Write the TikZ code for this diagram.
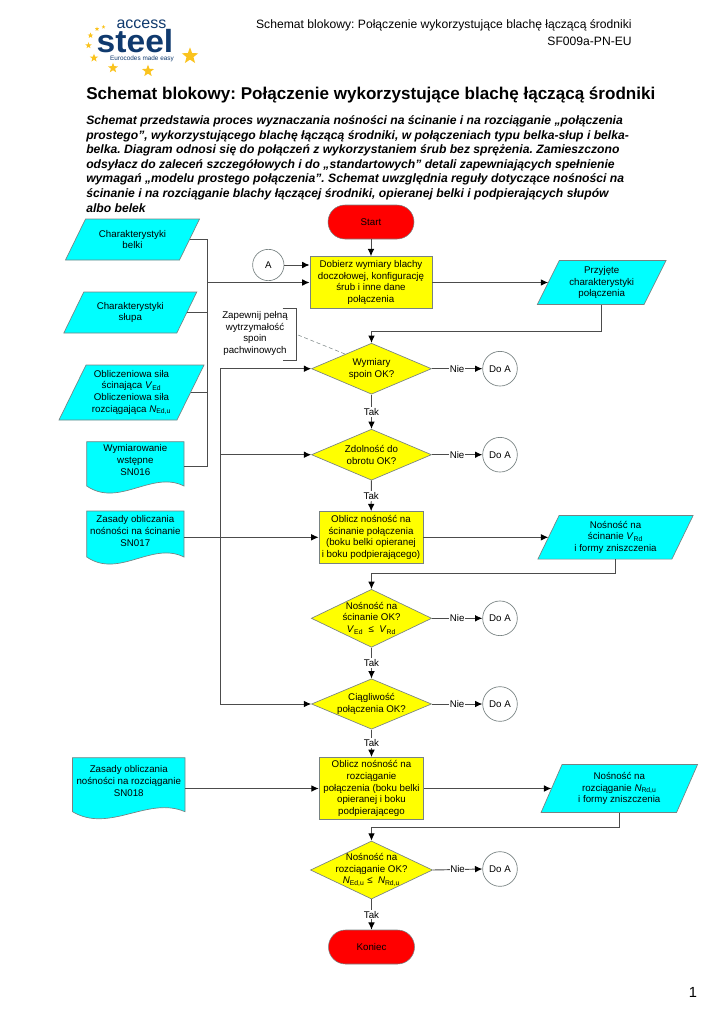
\documentclass[tikz,border=0pt]{standalone}
\usepackage{fontspec}
\setmainfont{Liberation Sans}
\usetikzlibrary{shapes.geometric,arrows.meta}
\frenchspacing
\definecolor{flowcyan}{RGB}{0,255,255}
\definecolor{flowyellow}{RGB}{255,255,0}
\definecolor{flowred}{RGB}{255,0,0}
\definecolor{flowgray}{RGB}{120,130,130}
\definecolor{logoblue}{RGB}{16,58,110}
\definecolor{logogold}{RGB}{250,195,30}
\tikzset{
  flowtext/.style={font=\fontsize{7.3}{8.75}\selectfont, align=center, inner sep=0pt},
  databox/.style={fill=flowcyan, draw=flowgray, line width=0.5pt},
  datanode/.style={flowtext, minimum height=0pt},
  procbox/.style={flowtext, rectangle, draw=flowgray, line width=0.7pt, fill=flowyellow},
  decide/.style={diamond, inner sep=0pt, draw=flowgray, line width=0.5pt, fill=flowyellow},
  terminal/.style={flowtext, rectangle, rounded corners=12.7pt, draw=flowgray, line width=0.4pt, fill=flowred},
  jumpcirc/.style={flowtext, circle, draw=flowgray, line width=0.5pt, fill=white},
  link/.style={draw=black!70, line width=0.7pt, -{Latex[length=5.5pt,width=5pt,black]}},
  plainlink/.style={draw=black!70, line width=0.7pt},
  lbl/.style={flowtext, fill=white, inner xsep=0.4pt, inner ysep=1pt},
  logostar/.style={star, star points=5, star point ratio=2.4, fill=logogold, inner sep=0pt}
}
\newcommand{\symb}[2]{\textit{#1}\textsubscript{#2}}
% parallelogram: name, x, y, mid width, height, half skew, text
\newcommand{\paradata}[7]{
  \filldraw[databox] ({#2-#4/2+#6},{#3-#5/2}) -- ({#2+#4/2+#6},{#3-#5/2})
    -- ({#2+#4/2-#6},{#3+#5/2}) -- ({#2-#4/2-#6},{#3+#5/2}) -- cycle;
  \node[datanode, minimum width=#4*0.75pt, minimum height=#5*0.75pt] (#1) at (#2,#3) {#7};
}
% document shape: name, left, right, top, bottom, text y, text
\newcommand{\docdata}[7]{
  \filldraw[databox] (#2,#4) -- (#3,#4) -- (#3,#5)
    .. controls ({#3-0.33*(#3-#2)},{#5-16}) and ({#2+0.33*(#3-#2)},{#5+22}) .. (#2,#5) -- cycle;
  \node[datanode, minimum width={(#3-#2)*0.75pt}] (#1) at ({(#2+#3)/2},#6) {#7};
}
% decision: name, x, y, width, height, text
\newcommand{\decision}[6]{
  \node[decide, minimum width=#4*0.75pt, minimum height=#5*0.75pt,
    label={[flowtext]center:{#6}}] (#1) at (#2,#3) {};
}
\begin{document}
\begin{tikzpicture}[x=0.75pt,y=-0.75pt]
\useasboundingbox (0,0) rectangle (724,1024);

% logo
\node[font=\fontsize{12}{12}\selectfont, text=logoblue, inner sep=0pt] (logoa) at (141.5,24) {access};
\node[font=\fontsize{24}{24}\bfseries\selectfont, text=logoblue, inner sep=0pt, xscale=1.05] (logob) at (135,41.5) {steel};
\node[font=\fontsize{4.8}{5}\selectfont, text=logoblue, inner sep=0pt] (logoc) at (142,58.5) {Eurocodes made easy};
\node[logostar, minimum size=13pt] (stara) at (190,56) {};
\node[logostar, minimum size=9.5pt] (starb) at (148,71) {};
\node[logostar, minimum size=8pt] (starc) at (113,68) {};
\node[logostar, minimum size=6.5pt] (stard) at (94,58) {};
\node[logostar, minimum size=5pt] (stare) at (88.5,45.5) {};
\node[logostar, minimum size=4.5pt] (starf) at (90.5,35.5) {};
\node[logostar, minimum size=3.5pt] (starg) at (97,29) {};
\node[logostar, minimum size=3pt] (starh) at (103.5,27) {};

% header and title
\node[anchor=east, font=\fontsize{9.1}{11}\selectfont, inner sep=0pt] (headone) at (632,25) {Schemat blokowy: Połączenie wykorzystujące blachę łączącą środniki};
\node[anchor=east, font=\fontsize{9.1}{11}\selectfont, inner sep=0pt] (headtwo) at (632,41) {SF009a-PN-EU};
\node[anchor=west, font=\fontsize{12.8}{15}\bfseries\selectfont, inner sep=0pt] (title) at (86,95) {Schemat blokowy: Połączenie wykorzystujące blachę łączącą środniki};
\node[anchor=north west, align=left, font=\fontsize{9.12}{10.93}\bfseries\itshape\selectfont, inner sep=0pt] (intro) at (86,115.5) {Schemat przedstawia proces wyznaczania nośności na ścinanie i na rozciąganie „połączenia\\
prostego”, wykorzystującego blachę łączącą środniki, w połączeniach typu belka-słup i belka-\\
belka. Diagram odnosi się do połączeń z wykorzystaniem śrub bez sprężenia. Zamieszczono\\
odsyłacz do zaleceń szczegółowych i do „standartowych” detali zapewniających spełnienie\\
wymagań „modelu prostego połączenia”. Schemat uwzględnia reguły dotyczące nośności na\\
ścinanie i na rozciąganie blachy łączącej środniki, opieranej belki i podpierających słupów\\
albo belek};
\node[font=\fontsize{11}{13}\selectfont, inner sep=0pt] (pagenum) at (693,992) {1};

% inputs on the left
\paradata{belka}{132.5}{239.5}{114}{41}{10}{Charakterystyki\\belki}
\paradata{slup}{130.3}{312.5}{113}{41}{10}{Charakterystyki\\słupa}
\paradata{sily}{131.5}{392.5}{118}{55}{13.5}{Obliczeniowa siła\\ścinająca \symb{V}{Ed}\\Obliczeniowa siła\\rozciągająca \symb{N}{Ed,u}}
\docdata{wstepne}{86.7}{184}{441.7}{486}{460}{Wymiarowanie\\wstępne\\SN016}
\docdata{zasadyv}{86.7}{184}{511}{557}{531}{Zasady obliczania\\nośności na ścinanie\\SN017}
\docdata{zasadyn}{72.5}{185}{757.7}{811.7}{781}{Zasady obliczania\\nośności na rozciąganie\\SN018}

% main column
\node[terminal, minimum width=64.5pt, minimum height=25.5pt] (start) at (371,222) {Start};
\node[procbox, minimum width=91.5pt, minimum height=38.7pt] (dobierz) at (371,282.5) {Dobierz wymiary blachy\\doczołowej, konfigurację\\śrub i inne dane\\połączenia};
\decision{spoiny}{371.5}{368.7}{120}{51}{Wymiary\\spoin OK?}
\decision{obrot}{371.5}{454.7}{120}{51}{Zdolność do\\obrotu OK?}
\node[procbox, minimum width=78pt, minimum height=38.5pt] (obliczv) at (371,537.3) {Oblicz nośność na\\ścinanie połączenia\\(boku belki opieranej\\i boku podpierającego)};
\decision{scin}{371.5}{618.3}{120.4}{58}{Nośność na\\ścinanie OK?\\\symb{V}{Ed} \ ≤ \ \symb{V}{Rd}}
\decision{ciagl}{371.5}{704}{120}{50.4}{Ciągliwość\\połączenia OK?}
\node[procbox, minimum width=78.5pt, minimum height=46.5pt] (obliczn) at (371.5,788.5) {Oblicz nośność na\\rozciąganie\\połączenia (boku belki\\opieranej i boku\\podpierającego};
\decision{rozc}{371.5}{870}{122}{58}{Nośność na\\rozciąganie OK?\\\symb{N}{Ed,u} ≤ \ \symb{N}{Rd,u}}
\node[terminal, minimum width=64.5pt, minimum height=25.5pt] (koniec) at (371.5,947) {Koniec};

% results on the right
\paradata{przyjete}{601.7}{282.5}{106.7}{44}{11}{Przyjęte\\charakterystyki\\połączenia}
\paradata{nosnv}{615.5}{537.3}{134}{43.6}{10.6}{Nośność na\\ścinanie \symb{V}{Rd}\\i formy zniszczenia}
\paradata{nosnn}{619.3}{788.5}{135.5}{48}{10.5}{Nośność na\\rozciąganie \symb{N}{Rd,u}\\i formy zniszczenia}

% jumps
\node[jumpcirc, minimum size=23.5pt] (a) at (268.3,265) {A};
\foreach \name/\y in {doa/368.7,dob/454.7,doc/618.3,dod/704,doe/869}
  \node[jumpcirc, minimum size=26pt] (\name) at (500,\y) {Do A};

% note on the welds
\node[flowtext, minimum width=60pt] (notatka) at (255,333.5) {Zapewnij pełną\\wytrzymałość\\spoin\\pachwinowych};
\coordinate (notaa) at (282.7,308.3);
\coordinate (notab) at (296.7,308.3);
\coordinate (notac) at (296.7,360.3);
\coordinate (notad) at (282.7,360.3);
\draw[plainlink, line width=0.5pt] (notaa) -- (notab) -- (notac) -- (notad);
\coordinate (notae) at (298,335);
\coordinate (notaf) at (345,354);
\draw[draw=flowgray, line width=0.4pt, densely dashed] (notae) -- (notaf);

% flow down the column
\draw[link] (start) -- (dobierz);
\draw[link] (a) -- (a -| dobierz.west);
\draw[link] (dobierz.east) -- (przyjete.west);
\coordinate (backa) at (371.5,331);
\draw[plainlink] (przyjete.south) |- (backa);
\draw[link] (backa) -- (spoiny.north);
\draw[link] (spoiny) -- node[lbl] {Tak} (obrot);
\draw[link] (obrot) -- node[lbl] {Tak} (obliczv);
\draw[link] (obliczv) -- (nosnv);
\coordinate (backb) at (371.5,573.3);
\draw[plainlink] (nosnv.south) |- (backb);
\draw[link] (backb) -- (scin.north);
\draw[link] (scin) -- node[lbl] {Tak} (ciagl);
\draw[link] (ciagl) -- node[lbl] {Tak} (obliczn);
\draw[link] (obliczn) -- (nosnn);
\coordinate (backc) at (371.5,827);
\draw[plainlink] (nosnn.south) |- (backc);
\draw[link] (backc) -- (rozc.north);
\draw[link] (rozc) -- node[lbl] {Tak} (koniec);

% no branches
\foreach \from/\to in {spoiny/doa,obrot/dob,scin/doc,ciagl/dod,rozc/doe}
  \draw[link] (\from.east) -- node[lbl] {Nie} (\to.west);

% input bus
\coordinate (busa) at (207.3,239.5);
\coordinate (busb) at (207.3,466.7);
\coordinate (busc) at (207.3,282.5);
\draw[plainlink] (belka.east) -- (busa) -- (busb) -- (wstepne.east |- busb);
\draw[plainlink] (slup.east) -- (slup.east -| busa);
\draw[plainlink] (sily.east) -- (sily.east -| busa);
\draw[link] (busc) -- (dobierz.west |- busc);

% second bus
\coordinate (busd) at (220,368.7);
\coordinate (buse) at (220,704);
\draw[plainlink] (busd) -- (buse);
\draw[link] (busd) -- (spoiny.west);
\draw[link] (busd |- obrot) -- (obrot.west);
\draw[link] (buse) -- (ciagl.west);
\draw[link] (zasadyv.east |- obliczv) -- (obliczv.west);
\draw[link] (zasadyn.east |- obliczn) -- (obliczn.west);
\end{tikzpicture}
\end{document}
